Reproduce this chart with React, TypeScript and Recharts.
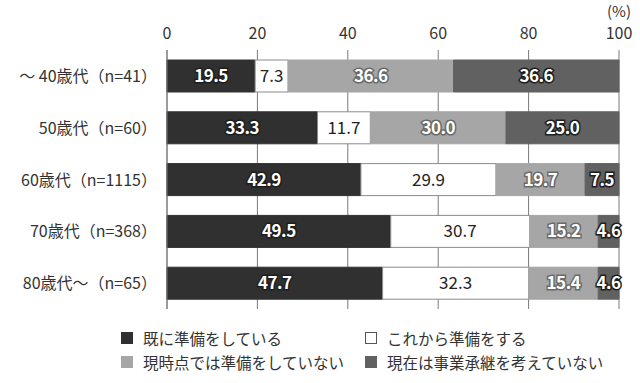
import React from "react";
import { BarChart, Bar, XAxis, YAxis, CartesianGrid, LabelList } from "recharts";

const categories = ["～ 40歳代（n=41）", "50歳代（n=60）", "60歳代（n=1115）", "70歳代（n=368）", "80歳代～（n=65）"];
const prepared = [19.5, 33.3, 42.9, 49.5, 47.7];
const willPrepare = [7.3, 11.7, 29.9, 30.7, 32.3];
const notPreparing = [36.6, 30.0, 19.7, 15.2, 15.4];
const notConsidering = [36.6, 25.0, 7.5, 4.6, 4.6];
const xTicks = [0, 20, 40, 60, 80, 100];

const seriesNames = ["既に準備をしている", "これから準備をする", "現時点では準備をしていない", "現在は事業承継を考えていない"];
const seriesKeys = ["prepared", "willPrepare", "notPreparing", "notConsidering"];
const seriesFill = ["#303030", "#ffffff", "#a6a6a6", "#616161"];
const seriesStroke = ["#303030", "#8a8a8a", "#a6a6a6", "#616161"];

const data = categories.map((name, i) => ({
  name,
  prepared: prepared[i],
  willPrepare: willPrepare[i],
  notPreparing: notPreparing[i],
  notConsidering: notConsidering[i],
}));

const FONT = "'Noto Sans CJK JP', 'Noto Sans', sans-serif";

const XTick = (props: any) => {
  const { x, payload } = props;
  return (
    <g>
      <text x={x} y={39} textAnchor="middle" fontSize={16} fill="#333" fontFamily={FONT}>
        {payload.value}
      </text>
      {payload.value === 100 && (
        <text x={x} y={17} textAnchor="middle" fontSize={15} fill="#333" fontFamily={FONT}>
          (%)
        </text>
      )}
    </g>
  );
};

const YTick = (props: any) => {
  const { y, payload } = props;
  return (
    <text x={157} y={y} dy={6} textAnchor="end" fontSize={16} fill="#333" fontFamily={FONT}>
      {payload.value}
    </text>
  );
};

const makeLabel = (idx: number) => (props: any) => {
  const { x, y, width, height, value } = props;
  const cx = x + width / 2;
  const cy = y + height / 2 + 6;
  const txt = Number(value).toFixed(1);
  if (idx === 1) {
    return (
      <text x={cx} y={cy} textAnchor="middle" fontSize={17} fill="#222" fontFamily={FONT}>
        {txt}
      </text>
    );
  }
  const strokeCol = idx === 2 ? "#6a6a6a" : "#1e1e1e";
  return (
    <text
      x={cx}
      y={cy}
      textAnchor="middle"
      fontSize={17}
      fill="#ffffff"
      stroke={strokeCol}
      strokeWidth={3}
      paintOrder="stroke"
      fontWeight={700}
      fontFamily={FONT}
      letterSpacing={-0.5}
    >
      {txt}
    </text>
  );
};

const LegendBlock = () => {
  const item = (i: number, left: number, top: number) => (
    <div key={i} style={{ position: "absolute", left, top, display: "flex", alignItems: "center", whiteSpace: "nowrap", height: 22 }}>
      <span
        style={{
          display: "inline-block",
          width: 10,
          height: 10,
          background: seriesFill[i],
          border: i === 1 ? "1px solid #555" : `1px solid ${seriesFill[i]}`,
          marginRight: 10,
        }}
      />
      <span style={{ fontSize: 15.5, color: "#333", fontFamily: FONT, lineHeight: "22px" }}>{seriesNames[i]}</span>
    </div>
  );
  return (
    <div style={{ position: "absolute", left: 0, top: 327, width: 640, height: 50 }}>
      {item(0, 121, 0)}
      {item(1, 365, 0)}
      {item(2, 121, 24)}
      {item(3, 365, 24)}
    </div>
  );
};

export default function App() {
  return (
    <div style={{ position: "absolute", left: 0, top: 0, width: 640, height: 383, background: "#fff" }}>
      <BarChart
        width={640}
        height={383}
        data={data}
        layout="vertical"
        margin={{ top: 0, right: 21, bottom: 74, left: 0 }}
      >
        <CartesianGrid horizontal={false} vertical={true} stroke="#7a7a7a" strokeWidth={1} />
        <XAxis
          type="number"
          orientation="top"
          domain={[0, 100]}
          ticks={xTicks}
          height={50}
          axisLine={false}
          tickLine={false}
          tick={<XTick />}
          interval={0}
        />
        <YAxis
          type="category"
          dataKey="name"
          width={167}
          axisLine={{ stroke: "#7a7a7a" }}
          tickLine={false}
          tick={<YTick />}
          interval={0}
        />
        {seriesKeys.map((k, i) => (
          <Bar
            key={k}
            dataKey={k}
            name={seriesNames[i]}
            stackId="a"
            fill={seriesFill[i]}
            stroke={seriesStroke[i]}
            strokeWidth={1}
            barSize={32}
            isAnimationActive={false}
          >
            <LabelList dataKey={k} content={makeLabel(i)} />
          </Bar>
        ))}
      </BarChart>
      <LegendBlock />
    </div>
  );
}
